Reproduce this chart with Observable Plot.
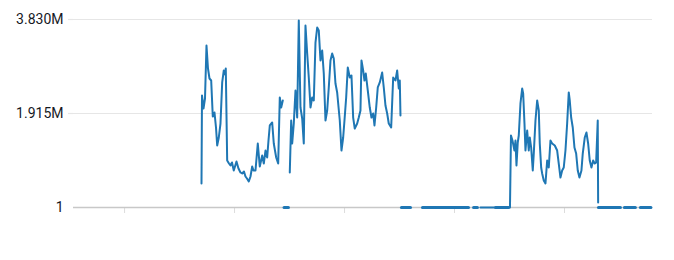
<!DOCTYPE html>
<html>
<head>
<meta charset="utf-8">
<script src="https://cdn.jsdelivr.net/npm/d3@7"></script>
<script src="https://cdn.jsdelivr.net/npm/@observablehq/plot@0.6"></script>
<style>
  html, body { margin: 0; padding: 0; background: #fff; }
  #chart { width: 674px; height: 260px; }
</style>
</head>
<body>
<div id="chart"></div>
<script>
// Time in days since start of window; values in millions (null = gap in data)
const lineDays = [
  8.146, 8.178, 8.273, 8.369, 8.464, 8.559, 8.655, 8.763, 8.865, 8.973,
  9.069, 9.145, 9.247, 9.355, 9.463, 9.565, 9.642, 9.692, 9.781, 9.896,
  9.991, 10.087, 10.201, 10.278, 10.373, 10.500, 10.628, 10.736, 10.850, 10.946,
  11.041, 11.156, 11.264, 11.372, 11.455, 11.582, 11.729, 11.856, 12.009, 12.111,
  12.219, 12.327, 12.410, 12.493, 12.645, 12.747, 12.900, 13.027, 13.129, 13.218,
  13.320,
  13.500,
  13.765, 13.854, 13.918, 14.020, 14.128, 14.236, 14.338, 14.446, 14.554, 14.656,
  14.764, 14.873, 14.974, 15.083, 15.191, 15.293, 15.401, 15.509, 15.611, 15.719,
  15.827, 15.929, 16.037, 16.145, 16.247, 16.355, 16.463, 16.565, 16.673, 16.781,
  16.947, 17.055, 17.163, 17.246, 17.354, 17.456, 17.583, 17.691, 17.799, 17.901,
  18.054, 18.156, 18.264, 18.328, 18.436, 18.519, 18.602, 18.729, 18.856, 18.964,
  19.073, 19.155, 19.264, 19.365, 19.493, 19.645, 19.747, 19.855, 19.964, 20.065,
  20.218, 20.346, 20.492, 20.600, 20.702, 20.766, 20.810,
  23.000,
  25.901, 27.683, 27.779, 27.843, 27.938, 28.065, 28.129, 28.193, 28.275, 28.339,
  28.447, 28.555, 28.619, 28.702, 28.765, 28.874, 28.975, 29.039, 29.128, 29.230,
  29.294, 29.402, 29.510, 29.612, 29.675, 29.764, 29.828, 29.930, 30.038, 30.146,
  30.248, 30.356, 30.464, 30.630, 30.782, 30.884, 30.992, 31.100, 31.202, 31.310,
  31.418, 31.520, 31.584, 31.673, 31.775, 31.883, 31.991, 32.093, 32.201, 32.328,
  32.411, 32.538, 32.646, 32.754, 32.856, 32.964, 33.072, 33.174, 33.263, 33.365,
  33.390
];
const lineValues = [
  0.489, 2.282, 2.017, 2.221, 3.300, 2.832, 2.628, 2.587, 1.854, 1.935,
  1.630, 1.263, 1.426, 1.711, 2.547, 2.791, 2.709, 2.832, 0.957, 0.896,
  0.856, 0.917, 0.754, 0.835, 0.937, 0.795, 0.713, 0.693, 0.733, 0.632,
  0.591, 0.530, 0.632, 0.835, 0.754, 0.754, 1.304, 0.835, 1.059, 0.896,
  1.161, 1.019, 1.365, 1.671, 1.732, 1.304, 1.019, 0.896, 2.241, 2.037,
  2.180,
  null,
  0.713, 1.772, 1.304, 1.711, 2.384, 1.833, 3.810, 2.037, 1.813, 1.304,
  3.708, 3.137, 2.648, 2.037, 2.241, 2.180, 3.361, 3.667, 3.606, 2.995,
  3.198, 2.730, 1.772, 1.976, 2.445, 2.995, 3.137, 3.035, 2.526, 2.343,
  1.772, 1.161, 1.426, 1.772, 2.241, 2.852, 2.648, 2.689, 1.833, 1.609,
  1.711, 1.833, 1.976, 2.995, 2.791, 2.587, 2.730, 2.384, 2.037, 1.833,
  1.915, 1.671, 2.037, 2.445, 2.547, 2.750, 2.445, 2.078, 1.915, 1.711,
  1.630, 2.648, 2.587, 2.791, 2.424, 2.587, 1.874,
  null,
  0, 0, 0, 1.467, 1.365, 1.161, 1.365, 0.856, 1.324, 1.467,
  2.119, 2.424, 2.322, 1.711, 1.161, 1.569, 1.161, 1.426, 1.222, 0.754,
  1.100, 1.772, 2.180, 1.976, 1.304, 0.815, 0.693, 0.550, 0.489, 0.957,
  0.815, 1.365, 1.304, 1.263, 1.161, 0.896, 0.611, 0.754, 0.815, 1.161,
  1.711, 2.343, 2.180, 1.833, 1.630, 1.222, 1.100, 0.754, 0.611, 0.754,
  1.100, 1.426, 1.528, 1.304, 0.957, 0.815, 0.957, 0.896, 0.917, 1.772,
  0.102
];
// Runs of sparse near-zero readings (start/end day)
const zeroStart = [13.40, 20.87, 22.21, 25.46, 26.86, 33.41, 35.06, 36.08];
const zeroEnd   = [13.68, 21.45, 25.14, 25.71, 27.68, 34.81, 35.76, 36.75];

const yTicks = [1, 1915000, 3830000];
const xTicks = [3.25, 10.25, 17.25, 24.25, 31.25];

const series = lineDays.map((d, i) => ({
  day: d,
  value: lineValues[i] === null ? null : Math.max(1, lineValues[i] * 1e6)
}));
const zeroRuns = zeroStart.map((s, i) => ({ start: s, end: zeroEnd[i], value: 1 }));

const fmt = v => v === 1 ? "1" : (v / 1e6).toFixed(3) + "M";
const blue = "#1f77b4";

const chart = Plot.plot({
  width: 674,
  height: 260,
  marginLeft: 73,
  marginRight: 22,
  marginTop: 19,
  marginBottom: 53,
  style: { fontFamily: "Roboto, 'Open Sans', sans-serif", fontSize: "14px", color: "#16191f", background: "#fff" },
  x: { domain: [0, 36.85] },
  y: { domain: [1, 3830000] },
  marks: [
    Plot.gridY([1915000, 3830000], { stroke: "#e6e6e6", strokeOpacity: 1, strokeWidth: 1.2 }),
    Plot.axisY([1915000, 3830000], { tickSize: 5, stroke: "#e6e6e6", strokeWidth: 1.2, text: null, label: null }),
    Plot.axisY(yTicks, { tickSize: 0, tickPadding: 10, tickFormat: fmt, label: null, fill: "#16191f", fontSize: 14 }),
    Plot.axisX(xTicks, { tickSize: 6, stroke: "#dcdcdc", tickFormat: () => "", label: null }),
    Plot.ruleY([1], { stroke: "#c8c8c8", strokeWidth: 1.5 }),
    Plot.link(zeroRuns, { x1: "start", x2: "end", y1: "value", y2: "value", stroke: blue, strokeWidth: 3, strokeLinecap: "round" }),
    Plot.line(series, { x: "day", y: "value", stroke: blue, strokeWidth: 2, curve: "linear" })
  ]
});
document.getElementById("chart").appendChild(chart);
</script>
</body>
</html>
